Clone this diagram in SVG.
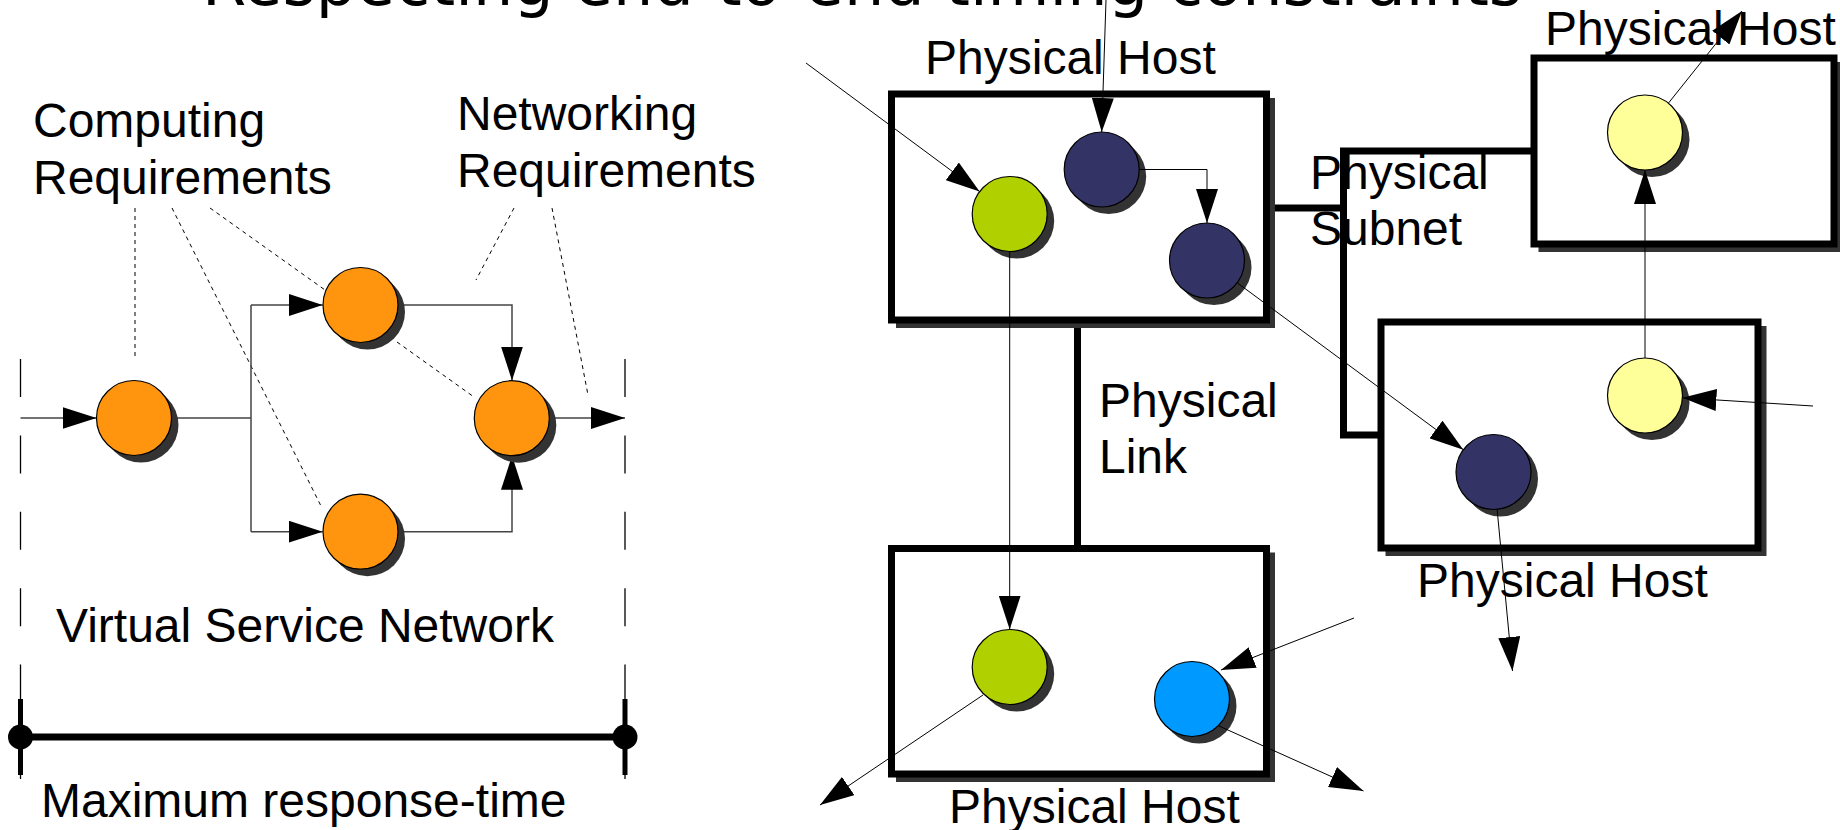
<svg xmlns="http://www.w3.org/2000/svg" width="1840" height="830" viewBox="0 0 1840 830">
<style>
.lbl{font-family:"Liberation Sans",Arial,sans-serif;font-size:48px;fill:#000}
.ttl{font-family:"DejaVu Sans","Liberation Sans",sans-serif;font-size:64px;fill:#000}
.sh{fill:#333333}
.orange{fill:#ff950e;stroke:#000;stroke-width:1.2}
.green{fill:#b0d000;stroke:#000;stroke-width:1.2}
.navy{fill:#333366;stroke:#000;stroke-width:1.2}
.yellow{fill:#ffff99;stroke:#000;stroke-width:1.2}
.blue{fill:#0099ff;stroke:#000;stroke-width:1.2}
.host{fill:#fff;stroke:#000;stroke-width:7}
.thick{fill:none;stroke:#000;stroke-width:7}
.conn{fill:none;stroke:#000;stroke-width:1}
.lconn{fill:none;stroke:#444;stroke-width:1.5}
.dot{fill:none;stroke:#000;stroke-width:1;stroke-dasharray:4 4}
.vdash{fill:none;stroke:#000;stroke-width:1.3;stroke-dasharray:38 38.4}
</style>
<defs>
<marker id="ah" markerWidth="34" markerHeight="22" refX="34" refY="11" orient="auto" markerUnits="userSpaceOnUse">
<path d="M0,0 L34,11 L0,22 z" fill="#000"/>
</marker>
</defs>
<rect width="1840" height="830" fill="#fff"/>

<text class="ttl" x="202" y="5" textLength="1320" lengthAdjust="spacingAndGlyphs">Respecting end-to-end timing constraints</text>

<!-- Left: virtual service network -->
<g id="bounds">
<line class="vdash" x1="20.5" y1="359" x2="20.5" y2="780"/>
<line class="vdash" x1="625" y1="359" x2="625" y2="780"/>
</g>
<g id="annotations">
<line class="dot" x1="135" y1="208" x2="135" y2="358"/>
<line class="dot" x1="172" y1="208" x2="322" y2="508"/>
<line class="dot" x1="210" y1="208" x2="325" y2="290"/>
<line class="dot" x1="397" y1="342" x2="474" y2="397"/>
<line class="dot" x1="514" y1="208" x2="476" y2="280"/>
<line class="dot" x1="552" y1="208" x2="588" y2="395"/>
</g>
<g id="vsn-connectors">
<line class="lconn" x1="20.5" y1="418" x2="96.5" y2="418" marker-end="url(#ah)"/>
<path class="lconn" d="M171.5,418 H251 M251,305 V531.7"/>
<line class="lconn" x1="251" y1="305" x2="322.7" y2="305" marker-end="url(#ah)"/>
<line class="lconn" x1="251" y1="531.7" x2="322.7" y2="531.7" marker-end="url(#ah)"/>
<path class="lconn" d="M398,305 H512 V380.5" marker-end="url(#ah)"/>
<path class="lconn" d="M398,531.7 H512 V455.7" marker-end="url(#ah)"/>
<line class="lconn" x1="549.3" y1="418" x2="625" y2="418" marker-end="url(#ah)"/>
</g>
<g id="s1"><circle class="sh" cx="141" cy="425" r="37.5"/><circle class="orange" cx="134" cy="418" r="37.5"/></g>
<g id="s2"><circle class="sh" cx="367.5" cy="312" r="37.5"/><circle class="orange" cx="360.5" cy="305" r="37.5"/></g>
<g id="s3"><circle class="sh" cx="367.5" cy="538.7" r="37.5"/><circle class="orange" cx="360.5" cy="531.7" r="37.5"/></g>
<g id="s4"><circle class="sh" cx="518.8" cy="425.2" r="37.5"/><circle class="orange" cx="511.8" cy="418.2" r="37.5"/></g>

<g id="labels-left">
<text class="lbl" x="33" y="137">Computing</text>
<text class="lbl" x="33" y="194">Requirements</text>
<text class="lbl" x="457" y="130">Networking</text>
<text class="lbl" x="457" y="187">Requirements</text>
<text class="lbl" x="56" y="642">Virtual Service Network</text>
</g>

<g id="timeline">
<line x1="20.5" y1="699" x2="20.5" y2="775" stroke="#000" stroke-width="5"/>
<line x1="625" y1="699" x2="625" y2="775" stroke="#000" stroke-width="5"/>
<line x1="20.5" y1="737" x2="625" y2="737" stroke="#000" stroke-width="7"/>
<circle cx="20.5" cy="737" r="12.5" fill="#000"/>
<circle cx="625" cy="737" r="12.5" fill="#000"/>
<text class="lbl" x="41" y="817">Maximum response-time</text>
</g>

<!-- Right: physical infrastructure -->
<g id="physical-links">
<line class="thick" x1="1077.5" y1="320" x2="1077.5" y2="548.5"/>
<path class="thick" d="M1266.5,208 H1343.5 M1534,151 H1343.5 V435 H1381" stroke-linejoin="miter" stroke-linecap="square"/>
</g>
<g id="host1"><rect class="sh" x="896" y="98" width="379" height="230"/><rect class="host" x="891.5" y="94" width="375" height="226"/></g>
<g id="host2"><rect class="sh" x="896" y="552.5" width="379" height="229.5"/><rect class="host" x="891.5" y="548.5" width="375" height="225.5"/></g>
<g id="host3"><rect class="sh" x="1538.5" y="62" width="304" height="190"/><rect class="host" x="1534" y="58" width="300" height="186"/></g>
<g id="host4"><rect class="sh" x="1385.5" y="326" width="381" height="230"/><rect class="host" x="1381" y="322" width="377" height="226"/></g>

<g id="labels-right">
<text class="lbl" x="925" y="74">Physical Host</text>
<text class="lbl" x="1545" y="45">Physical Host</text>
<text class="lbl" x="1417" y="597">Physical Host</text>
<text class="lbl" x="949" y="823">Physical Host</text>
<text class="lbl" x="1310" y="189">Physical</text>
<text class="lbl" x="1310" y="245">Subnet</text>
<text class="lbl" x="1099" y="417">Physical</text>
<text class="lbl" x="1099" y="473">Link</text>
</g>

<g id="g1"><circle class="sh" cx="1016.7" cy="221" r="37.5"/><circle class="green" cx="1009.7" cy="214" r="37.5"/></g>
<g id="n1"><circle class="sh" cx="1108.7" cy="176.5" r="37.5"/><circle class="navy" cx="1101.7" cy="169.5" r="37.5"/></g>
<g id="n2"><circle class="sh" cx="1214" cy="267.5" r="37.5"/><circle class="navy" cx="1207" cy="260.5" r="37.5"/></g>
<g id="y1"><circle class="sh" cx="1652" cy="139.5" r="37.5"/><circle class="yellow" cx="1645" cy="132.5" r="37.5"/></g>
<g id="y2"><circle class="sh" cx="1652" cy="402.5" r="37.5"/><circle class="yellow" cx="1645" cy="395.5" r="37.5"/></g>
<g id="n3"><circle class="sh" cx="1500.5" cy="479" r="37.5"/><circle class="navy" cx="1493.5" cy="472" r="37.5"/></g>
<g id="g2"><circle class="sh" cx="1016.7" cy="674" r="37.5"/><circle class="green" cx="1009.7" cy="667" r="37.5"/></g>
<g id="b1"><circle class="sh" cx="1199" cy="706" r="37.5"/><circle class="blue" cx="1192" cy="699" r="37.5"/></g>

<g id="flows">
<line class="conn" x1="806" y1="63" x2="979.6" y2="191.6" marker-end="url(#ah)"/>
<line class="conn" x1="1106" y1="0" x2="1101.7" y2="132" marker-end="url(#ah)"/>
<path class="conn" d="M1139.2,169.5 H1207 V223" stroke="#444" marker-end="url(#ah)"/>
<line class="conn" x1="1237.2" y1="282.8" x2="1463.3" y2="449.7" marker-end="url(#ah)"/>
<line class="conn" x1="1009.7" y1="251.5" x2="1009.7" y2="629.5" marker-end="url(#ah)"/>
<line class="conn" x1="1645" y1="358" x2="1645" y2="170" marker-end="url(#ah)"/>
<line class="conn" x1="1668.4" y1="103.2" x2="1742" y2="11" marker-end="url(#ah)"/>
<line class="conn" x1="1813" y1="406" x2="1682.4" y2="397.8" marker-end="url(#ah)"/>
<line class="conn" x1="1497.1" y1="509.3" x2="1512.5" y2="671" marker-end="url(#ah)"/>
<line class="conn" x1="1354" y1="618" x2="1221" y2="670" marker-end="url(#ah)"/>
<line class="conn" x1="1219" y1="726" x2="1363.5" y2="791" marker-end="url(#ah)"/>
<line class="conn" x1="983" y1="695" x2="820" y2="805" marker-end="url(#ah)"/>
</g>
</svg>
